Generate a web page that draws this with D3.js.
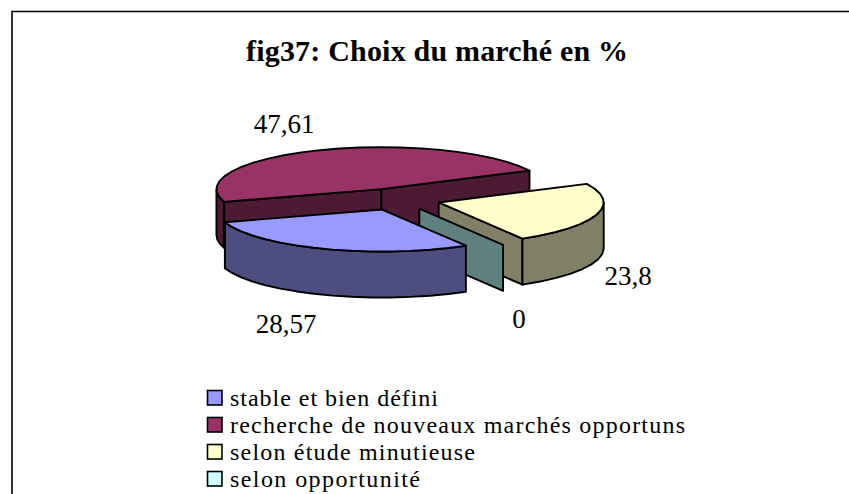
<!DOCTYPE html>
<html><head><meta charset="utf-8">
<script src="https://cdnjs.cloudflare.com/ajax/libs/d3/7.8.5/d3.min.js"></script>
<style>html,body{margin:0;padding:0;background:#fff}svg{display:block}text{font-family:"Liberation Serif",serif;fill:#000}</style>
</head><body><svg id="c" width="849" height="494"></svg>
<script>
const categories = ["stable et bien défini","recherche de nouveaux marchés opportuns","selon étude minutieuse","selon opportunité"];
const values = [28.57,47.61,23.8,0];
const valueLabels = ["28,57","47,61","23,8","0"];
const topColors = ["#9999FF","#993366","#FFFFCC","#CCFFFF"];
const sideColors = ["#4D4D80","#4D1A33","#808066","#608080"];
const titleText = "fig37: Choix du marché en %";

const labelPos = [[286,333],[284,133],[628,285],[519,328]];
const legendWidths = [208,455,245,190];
const svg = d3.select("#c");
svg.append("path").attr("d","M849.5 11.5H12V494").attr("fill","none").attr("stroke","#000").attr("stroke-width",1.6);
svg.append("text").attr("x",246).attr("y",61).attr("font-weight","bold").attr("font-size",30).attr("textLength",382).attr("lengthAdjust","spacing").text(titleText);

const rad = Math.PI/180, start = 149.5*rad;
const cx=397.5, cy=199.3, rx=165, ry=42, depth=46, explode=43;
const sx = d3.scaleLinear().domain([-1,1]).range([cx-rx,cx+rx]);
const sy = d3.scaleLinear().domain([-1,1]).range([cy+ry,cy-ry]);
const arcs = d3.pie().sort(null).startAngle(start).endAngle(start+2*Math.PI)(values);
const line = d3.line();
function geom(a){
  const mid=(a.startAngle+a.endAngle)/2;
  const ox=Math.sin(mid)*explode/rx, oy=Math.cos(mid)*explode/rx;
  const pt=(ang,r,dz=0)=>[sx(ox+r*Math.sin(ang)),sy(oy+r*Math.cos(ang))+dz];
  return {pt};
}
function arcPts(g,a0,a1,dz){
  const n=Math.max(1,Math.round((a1-a0)/(7*rad))),out=[];
  for(let i=0;i<=n;i++)out.push(g.pt(a0+(a1-a0)*i/n,1,dz));
  return out;
}
const st=(sel,fill)=>sel.attr("fill",fill).attr("stroke","#000").attr("stroke-width",1.9).attr("stroke-linejoin","round");
function radial(g,ang,fill){
  st(svg.append("path").attr("d",line([g.pt(0,0),g.pt(ang,1),g.pt(ang,1,depth),g.pt(0,0,depth)])+"Z"),fill);
}
function outer(g,a0,a1,fill){
  if(a1<=a0)return;
  const t=arcPts(g,a0,a1,0),b=arcPts(g,a0,a1,depth).reverse();
  st(svg.append("path").attr("d",line(t.concat(b))+"Z"),fill);
}
function topFace(g,a,fill){
  st(svg.append("path").attr("d",line([g.pt(0,0)].concat(arcPts(g,a.startAngle,a.endAngle,0)))+"Z"),fill);
}
// painter's order: red, yellow, teal, blue
[1,2,3,0].forEach(i=>{
  const a=arcs[i],g=geom(a);
  if(i===1){
    outer(g,a.startAngle,270*rad,sideColors[i]);
    radial(g,a.startAngle,sideColors[i]); radial(g,a.endAngle,sideColors[i]);
    topFace(g,a,topColors[i]);
  } else if(i===2){
    radial(g,a.endAngle,sideColors[i]);
    outer(g,90*rad+2*Math.PI,a.endAngle,sideColors[i]);
    topFace(g,a,topColors[i]);
  } else if(i===3){
    radial(g,a.startAngle,sideColors[i]);
  } else {
    outer(g,a.startAngle,a.endAngle,sideColors[i]);
    topFace(g,a,topColors[i]);
  }
});
valueLabels.forEach((t,i)=>svg.append("text").attr("x",labelPos[i][0]).attr("y",labelPos[i][1]).attr("text-anchor","middle").attr("font-size",27).text(t));
const ly=d3.scaleLinear().domain([0,3]).range([406,487]);
categories.forEach((c,i)=>{
  svg.append("rect").attr("x",207.5).attr("y",ly(i)-15.5).attr("width",14.5).attr("height",14.5).attr("fill",topColors[i]).attr("stroke","#000").attr("stroke-width",1.6);
  svg.append("text").attr("x",230).attr("y",ly(i)).attr("font-size",24).attr("textLength",legendWidths[i]).attr("lengthAdjust","spacing").text(c);
});
</script></body></html>
